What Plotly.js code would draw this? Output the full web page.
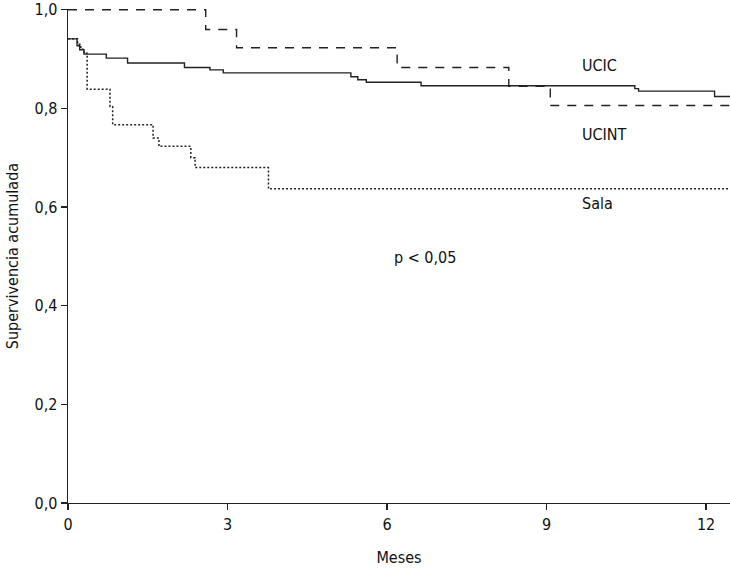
<!DOCTYPE html>
<html>
<head>
<meta charset="utf-8">
<script src="https://cdn.plot.ly/plotly-3.0.1.min.js"></script>
<style>html,body{margin:0;padding:0;background:#fff;}#chart{width:730px;height:573px;}</style>
</head>
<body>
<div id="chart"></div>
<script>
// Kaplan-Meier step data (months, cumulative survival)
var ucicT = [0, 0.17, 0.22, 0.30, 0.72, 1.12, 2.19, 2.67, 2.92, 5.32, 5.45, 5.61, 6.64, 10.66, 10.73, 12.16, 12.45];
var ucicS = [0.941, 0.927, 0.919, 0.910, 0.902, 0.892, 0.883, 0.878, 0.872, 0.864, 0.858, 0.853, 0.846, 0.840, 0.835, 0.824, 0.824];

var ucintT = [0, 2.59, 3.17, 6.19, 8.29, 9.07, 12.45];
var ucintS = [1.0, 0.960, 0.923, 0.883, 0.845, 0.806, 0.806];

var salaT = [0, 0.18, 0.24, 0.30, 0.36, 0.79, 0.84, 1.60, 1.71, 2.31, 2.39, 3.77, 12.45];
var salaS = [0.941, 0.930, 0.920, 0.912, 0.839, 0.804, 0.767, 0.740, 0.723, 0.700, 0.680, 0.637, 0.637];

var seriesNames = ["UCIC", "UCINT", "Sala"];
var xTickVals = [0, 3, 6, 9, 12];
var xTickText = ["0", "3", "6", "9", "12"];
var yTickVals = [0, 0.2, 0.4, 0.6, 0.8, 1.0];
var yTickText = ["0,0", "0,2", "0,4", "0,6", "0,8", "1,0"];
var labelX = [10.0, 10.09, 9.96];
var labelY = [0.887, 0.747, 0.607];
var pText = "p < 0,05";
var pX = 6.71, pY = 0.498;
var xTitle = "Meses";
var yTitle = "Supervivencia acumulada";

var FONT = "'Liberation Sans Narrow', 'DejaVu Sans Condensed', 'Roboto Condensed', 'Arial Narrow', sans-serif";
var INK = "#222222";
var TXT = "#111111";

var traces = [
  {x: ucicT, y: ucicS, name: seriesNames[0], mode: "lines", line: {shape: "hv", color: INK, width: 1.4}},
  {x: ucintT, y: ucintS, name: seriesNames[1], mode: "lines", line: {shape: "hv", color: INK, width: 1.4, dash: "9px,8px"}},
  {x: salaT, y: salaS, name: seriesNames[2], mode: "lines", line: {shape: "hv", color: INK, width: 1.5, dash: "2px,2px"}}
];

var annotations = seriesNames.map(function (n, i) {
  return {x: labelX[i], y: labelY[i], xref: "x", yref: "y", text: n, showarrow: false,
          font: {family: FONT, size: 16, color: TXT}};
});
annotations.push({x: pX, y: pY, xref: "x", yref: "y", text: pText, showarrow: false,
                  font: {family: FONT, size: 16, color: TXT}});

var layout = {
  width: 730, height: 573,
  margin: {l: 68, r: 0, t: 9, b: 70, pad: 0},
  paper_bgcolor: "#fff", plot_bgcolor: "#fff",
  showlegend: false,
  font: {family: FONT, size: 16, color: TXT},
  xaxis: {
    range: [0, 12.45], showgrid: false, zeroline: false,
    showline: true, linecolor: INK, linewidth: 1.4,
    ticks: "outside", ticklen: 6, tickcolor: INK, tickwidth: 1.2,
    tickvals: xTickVals, ticktext: xTickText,
    tickfont: {family: FONT, size: 16, color: TXT},
    title: {text: xTitle, font: {family: FONT, size: 16, color: TXT}, standoff: 19}
  },
  yaxis: {
    range: [0, 1.0015], showgrid: false, zeroline: false,
    showline: true, linecolor: INK, linewidth: 1.4,
    ticks: "outside", ticklen: 6, tickcolor: INK, tickwidth: 1.2,
    tickvals: yTickVals, ticktext: yTickText,
    tickfont: {family: FONT, size: 16, color: TXT},
    title: {text: yTitle, font: {family: FONT, size: 16, color: TXT}, standoff: 12}
  },
  annotations: annotations
};

Plotly.newPlot("chart", traces, layout, {displayModeBar: false, staticPlot: true});
</script>
</body>
</html>
